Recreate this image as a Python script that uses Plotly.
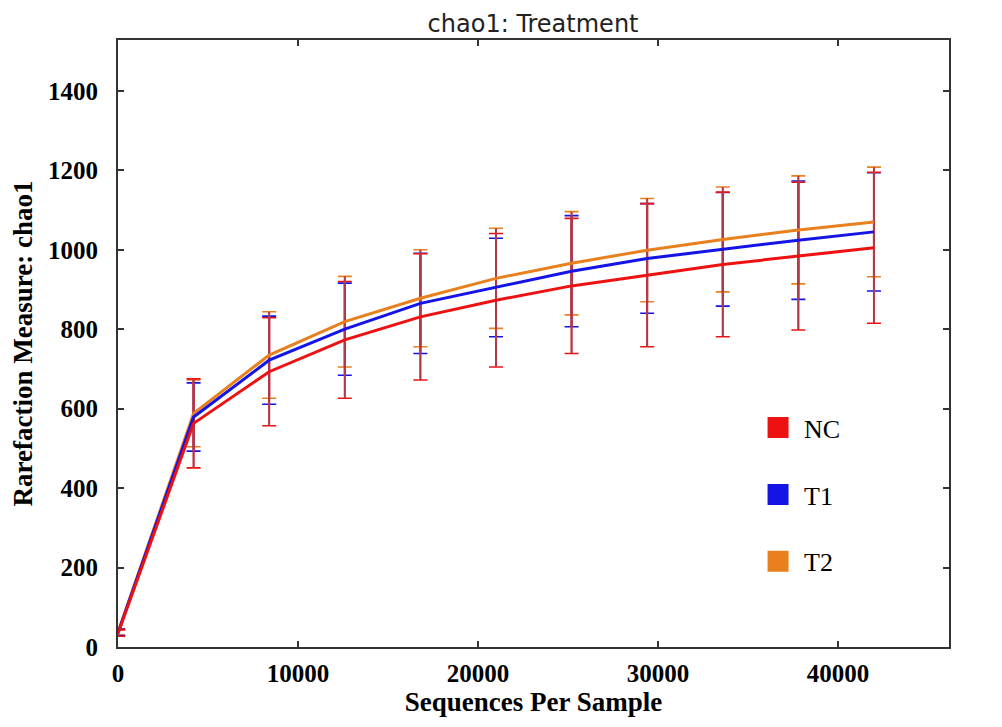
import plotly.graph_objects as go

seqs = [10, 4200, 8400, 12600, 16800, 21000, 25200, 29400, 33600, 37800, 42000]

nc_mean = [35, 563, 693, 773, 831, 873, 909, 936, 963, 984, 1005]
nc_err = [8, 112, 136, 147, 159, 168, 170, 180, 182, 186, 190]

t1_mean = [37, 579, 722, 800, 865, 905, 946, 978, 1001, 1024, 1045]
t1_err = [8, 86, 111, 116, 126, 124, 140, 138, 143, 149, 149]

t2_mean = [38, 588, 735, 819, 878, 928, 966, 999, 1026, 1050, 1070]
t2_err = [8, 84, 109, 114, 122, 126, 130, 130, 132, 136, 138]

series = [
    ("T2", t2_mean, t2_err, "#e8801e"),
    ("T1", t1_mean, t1_err, "#1414e6"),
    ("NC", nc_mean, nc_err, "#ee1111"),
]
legend_order = ["NC", "T1", "T2"]
bar_color = "#b23a48"

x_ticks = [0, 10000, 20000, 30000, 40000]
y_ticks = [0, 200, 400, 600, 800, 1000, 1200, 1400]

fig = go.Figure()

# coloured caps
for name, m, e, c in series:
    fig.add_trace(go.Scatter(
        x=seqs, y=m, mode="markers",
        marker=dict(size=1, color="rgba(0,0,0,0)"),
        error_y=dict(type="data", array=e, visible=True, color=c, thickness=1.6, width=7),
        showlegend=False, hoverinfo="skip"))

# vertical error lines
for name, m, e, c in series:
    fig.add_trace(go.Scatter(
        x=seqs, y=m, mode="markers",
        marker=dict(size=1, color="rgba(0,0,0,0)"),
        error_y=dict(type="data", array=e, visible=True, color=bar_color, thickness=2, width=0),
        showlegend=False, hoverinfo="skip"))

# mean lines
for name, m, e, c in series:
    fig.add_trace(go.Scatter(
        x=seqs, y=m, mode="lines", line=dict(color=c, width=3),
        showlegend=False, name=name))

# legend entries
colors = {s[0]: s[3] for s in series}
for name in legend_order:
    fig.add_trace(go.Scatter(
        x=[None], y=[None], mode="markers", name=name,
        marker=dict(symbol="square", size=16, color=colors[name],
                    line=dict(color=colors[name], width=5)),
        legendgroup=name, showlegend=True))

axis_common = dict(
    showline=True, linecolor="#333333", linewidth=2, mirror="ticks",
    ticks="inside", ticklen=6, tickcolor="#333333", tickwidth=1.5,
    showgrid=False, zeroline=False,
    tickfont=dict(family="Liberation Serif", size=25, color="black", weight="bold"),
)

fig.update_layout(
    width=1002, height=727,
    paper_bgcolor="white", plot_bgcolor="white",
    margin=dict(l=110, r=61, t=32, b=88),
    title=dict(text="chao1: Treatment", x=0.524, xanchor="center", y=0.978, yanchor="middle",
               font=dict(family="DejaVu Sans", size=24, color="#222222")),
    xaxis=dict(range=[0, 46170], tickvals=x_ticks, ticktext=[str(v) for v in x_ticks],
               title=dict(text="Sequences Per Sample", standoff=6,
                          font=dict(family="Liberation Serif", size=27, color="black", weight="bold")),
               ticklabelstandoff=3, **axis_common),
    yaxis=dict(range=[0, 1528], tickvals=y_ticks, ticktext=[str(v) for v in y_ticks],
               title=dict(text="Rarefaction Measure: chao1", standoff=8,
                          font=dict(family="Liberation Serif", size=27, color="black", weight="bold")),
               ticklabelstandoff=13, **axis_common),
    legend=dict(x=0.763, xanchor="left", y=0.40, yanchor="top",
                font=dict(family="Liberation Serif", size=26, color="black"),
                tracegroupgap=30, itemwidth=42, bgcolor="rgba(255,255,255,0)"),
)

fig.write_html("out.html")
